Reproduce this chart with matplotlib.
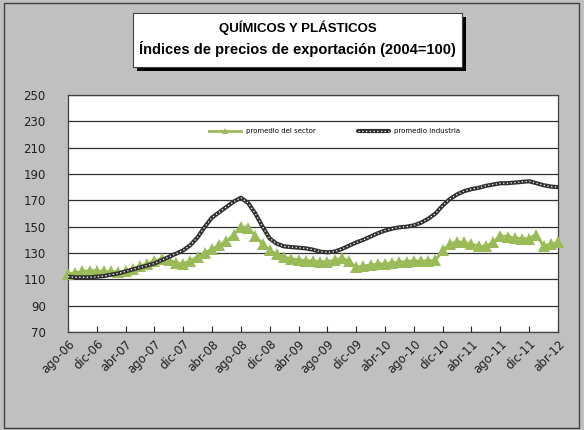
import numpy as np
import matplotlib
matplotlib.use("Agg")
import matplotlib.pyplot as plt
from matplotlib.patches import Rectangle

# monthly series, ago-06 .. abr-12
sector = [114, 115, 116, 116.5, 116.5, 116, 116, 115.5, 116, 118,
          120, 122, 124, 125.5, 125, 122.5, 122, 124, 127, 130,
          133, 136, 139, 144, 150, 149, 143, 137, 132, 129,
          127, 125.5, 125, 124, 124, 123.5, 123.5, 124.5, 126, 124,
          119, 120, 121, 121.5, 122, 122.5, 123, 123.5, 124, 124,
          124, 124.5, 132, 137, 138.5, 138, 137, 135, 135, 138,
          143, 142.5, 141.5, 141, 141, 144, 135, 137, 138]
industria = [112, 111.5, 111.5, 111.5, 112, 112.5, 113.5, 114.5, 116, 117.5,
             119, 120.5, 122, 124.5, 127, 129.5, 132, 136, 142, 150,
             157, 161, 165, 169, 172, 168, 160, 150, 141, 137,
             135, 134.5, 134, 133.5, 132.5, 131, 130.5, 131, 133, 135.5,
             138, 140, 142.5, 145, 147, 148.5, 149.5, 150, 151, 153,
             156, 160, 166, 171, 174.5, 177, 178.5, 179.5, 181, 182,
             183, 183, 183.5, 184, 184.5, 183, 181.5, 180.5, 180]
tick_labels = ["ago-06", "dic-06", "abr-07", "ago-07", "dic-07", "abr-08",
               "ago-08", "dic-08", "abr-09", "ago-09", "dic-09", "abr-10",
               "ago-10", "dic-10", "abr-11", "ago-11", "dic-11", "abr-12"]

x = np.arange(len(sector))

fig = plt.figure(figsize=(5.84, 4.30), dpi=100, facecolor="#C0C0C0")
fig.patches.append(Rectangle((0.007, 0.004), 0.984, 0.99, transform=fig.transFigure,
                             fill=False, edgecolor="#404040", lw=1))

# title box with shadow
fig.patches.append(Rectangle((0.2277 + 0.007, 0.8442 - 0.009), 0.5634, 0.1256,
                             transform=fig.transFigure, facecolor="black", edgecolor="none"))
fig.patches.append(Rectangle((0.2277, 0.8442), 0.5634, 0.1256, transform=fig.transFigure,
                             facecolor="white", edgecolor="#404040", lw=0.8))
fig.text(0.51, 0.935, "QUÍMICOS Y PLÁSTICOS", ha="center", va="center",
         fontsize=9.5, fontweight="bold", family="Liberation Sans")
fig.text(0.51, 0.887, "Índices de precios de exportación (2004=100)", ha="center",
         va="center", fontsize=10.5, fontweight="bold", family="Liberation Sans")

ax = fig.add_axes([0.1164, 0.228, 0.839, 0.551])
ax.set_facecolor("white")

g, = ax.plot(x, sector, color="#9BBB59", lw=2, marker="^", ms=9,
             markeredgewidth=0, zorder=3, clip_on=False)
b1, = ax.plot(x, industria, color="#303030", lw=3, zorder=4, solid_capstyle="round")
b2, = ax.plot(x, industria, color="white", lw=0.9, ls=(0, (1, 2)), zorder=5)

ax.set_ylim(70, 250)
ax.set_yticks(np.arange(70, 251, 20))
ax.set_xlim(0, len(sector) - 1)
ax.set_xticks(np.arange(0, len(sector), 4))
ax.set_xticklabels(tick_labels, rotation=45, ha="right", rotation_mode="anchor",
                   fontsize=8.5, color="#202020")
ax.tick_params(axis="x", direction="in", length=4, width=0.8, pad=4, color="#202020")
ax.tick_params(axis="y", length=0, pad=16, labelsize=8.5, labelcolor="#202020")
ax.grid(axis="y", color="#303030", lw=0.9)
ax.set_axisbelow(True)
for s in ax.spines.values():
    s.set_color("#404040")
    s.set_linewidth(0.9)

ax.legend([g, (b1, b2)], ["promedio del sector", "promedio industria"],
          loc="center", bbox_to_anchor=(0.545, 0.848), ncol=2, frameon=False,
          fontsize=5, handlelength=4.5, columnspacing=6, markerscale=0.45)

fig.savefig("out.png", dpi=100, facecolor=fig.get_facecolor())
